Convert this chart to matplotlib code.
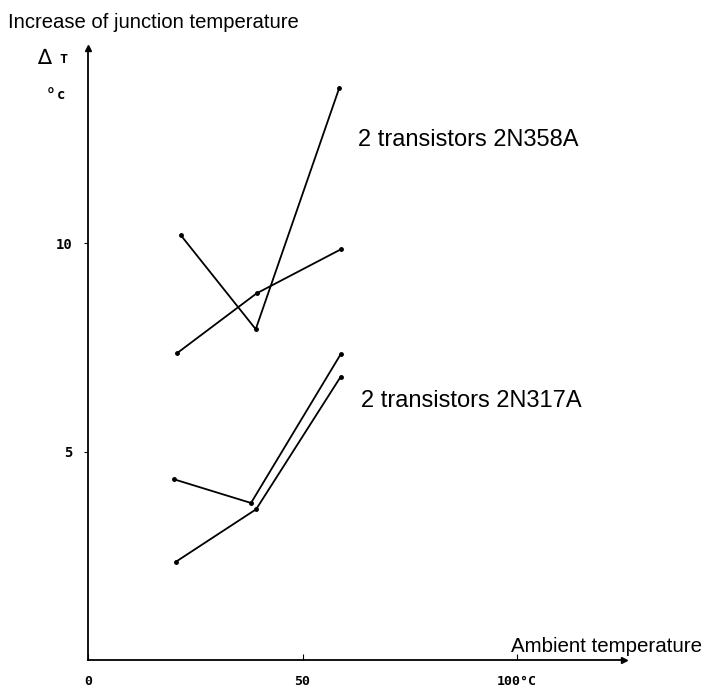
import matplotlib
matplotlib.use("Agg")
import matplotlib.pyplot as plt

# ambient temperature (deg C) and junction temperature increase (deg C)
amb_358a_1 = [21.6, 39.1, 58.6]
rise_358a_1 = [10.2, 7.94, 13.74]
amb_358a_2 = [20.7, 39.3, 59.0]
rise_358a_2 = [7.36, 8.80, 9.86]

amb_317a_1 = [20.0, 38.0, 58.9]
rise_317a_1 = [4.34, 3.77, 7.34]
amb_317a_2 = [20.5, 39.2, 58.9]
rise_317a_2 = [2.36, 3.62, 6.80]

xticks = [0, 50, 100]
xtick_labels = ["0", "50", "100°C"]
yticks = [5, 10]
ytick_labels = ["5", "10"]

sans = ["Liberation Sans", "DejaVu Sans"]
mono = ["DejaVu Sans Mono"]

fig = plt.figure(figsize=(7.05, 6.93), dpi=100)
ax = fig.add_axes([0, 0, 1, 1])
ax.set_xlim(-20.5, 143.8)
ax.set_ylim(-0.79, 15.84)

for xs, ys in [(amb_358a_1, rise_358a_1), (amb_358a_2, rise_358a_2),
               (amb_317a_1, rise_317a_1), (amb_317a_2, rise_317a_2)]:
    ax.plot(xs, ys, color="black", lw=1.3, marker="o", ms=2.5)

# axes drawn through the origin with arrow heads
for side in ["top", "right"]:
    ax.spines[side].set_visible(False)
ax.spines["left"].set_position(("data", 0))
ax.spines["bottom"].set_position(("data", 0))
ax.spines["left"].set_bounds(0, 14.7)
ax.spines["bottom"].set_bounds(0, 125.0)
ax.spines["left"].set_linewidth(1.3)
ax.spines["bottom"].set_linewidth(1.3)
ax.plot(0, 14.7, marker="^", ms=5, color="black", clip_on=False)
ax.plot(125.0, 0, marker=">", ms=5, color="black", clip_on=False)

ax.set_xticks(xticks)
ax.set_xticklabels(xtick_labels, family=mono, fontweight="bold", fontsize=9.5)
ax.set_yticks(yticks)
ax.set_yticklabels(ytick_labels, family=mono, fontweight="bold", fontsize=10)
ax.tick_params(axis="x", direction="in", length=4, pad=11)
ax.tick_params(axis="y", direction="out", length=3, pad=8)

ax.text(-10.3, 14.45, "∆", family=["DejaVu Sans"], fontsize=15,
        ha="center", va="center")
ax.text(-5.8, 14.42, "T", family=mono, fontweight="bold", fontsize=9.5,
        ha="center", va="center")
ax.text(-8.7, 13.52, "°", family=mono, fontweight="bold", fontsize=12,
        ha="center", va="center")
ax.text(-6.2, 13.55, "c", family=mono, fontweight="bold", fontsize=10,
        ha="center", va="center")

fig.text(0.011, 0.968, "Increase of junction temperature", family=sans,
         fontsize=14.6, ha="left", va="center")
ax.text(63.0, 12.33, "2 transistors 2N358A", family=sans, fontsize=17,
        ha="left", va="baseline")
ax.text(63.6, 6.07, "2 transistors 2N317A", family=sans, fontsize=17,
        ha="left", va="baseline")
ax.text(143.2, 0.19, "Ambient temperature", family=sans, fontsize=14.8,
        ha="right", va="baseline")

fig.savefig("out.png", dpi=100)
